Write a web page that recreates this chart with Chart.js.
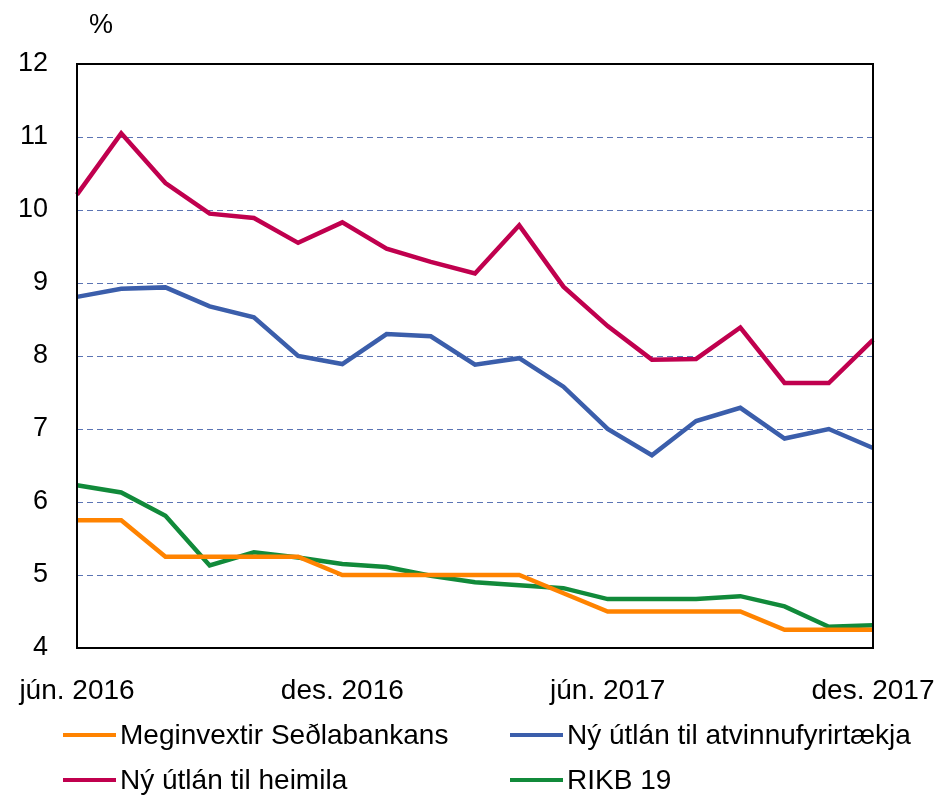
<!DOCTYPE html>
<html>
<head>
<meta charset="utf-8">
<script src="https://cdn.jsdelivr.net/npm/chart.js@4/dist/chart.umd.min.js"></script>
<style>
  html, body { margin: 0; padding: 0; background: #fff; }
  #wrap { position: relative; width: 937px; height: 799px; }
  #chart { position: absolute; left: 0; top: 0; }
  #legend { position: absolute; left: 0; top: 0; width: 937px; height: 799px; pointer-events: none;
            font-family: "Liberation Sans", Arial, sans-serif; font-size: 28px; color: #000; }
  .item { position: absolute; display: flex; align-items: center; white-space: nowrap; }
  .swatch { width: 53px; height: 4px; margin-right: 4px; }
</style>
</head>
<body>
<div id="wrap">
  <canvas id="chart" width="937" height="799"></canvas>
  <div id="legend"></div>
</div>
<script>
// Categories: monthly, jún. 2016 – des. 2017
const months = ["jún. 2016","júl. 2016","ágú. 2016","sep. 2016","okt. 2016","nóv. 2016","des. 2016",
                "jan. 2017","feb. 2017","mar. 2017","apr. 2017","maí 2017","jún. 2017","júl. 2017",
                "ágú. 2017","sep. 2017","okt. 2017","nóv. 2017","des. 2017"];
const shownTickLabels = ["jún. 2016","des. 2016","jún. 2017","des. 2017"];
const yTickValues = [4,5,6,7,8,9,10,11,12];

const seriesNames = ["Meginvextir Seðlabankans","Ný útlán til atvinnufyrirtækja","Ný útlán til heimila","RIKB 19"];

const meginvextir = [5.75,5.75,5.25,5.25,5.25,5.25,5.0,5.0,5.0,5.0,5.0,4.75,4.5,4.5,4.5,4.5,4.25,4.25,4.25];
const atvinnufyrirtaeki = [8.81,8.92,8.94,8.68,8.53,8.0,7.89,8.30,8.27,7.88,7.97,7.58,7.0,6.64,7.11,7.29,6.87,7.0,6.74];
const heimili = [10.21,11.05,10.37,9.95,9.89,9.55,9.83,9.47,9.29,9.13,9.79,8.95,8.41,7.95,7.96,8.39,7.63,7.63,8.22];
const rikb19 = [6.23,6.13,5.81,5.13,5.31,5.24,5.15,5.11,4.99,4.90,4.86,4.82,4.67,4.67,4.67,4.71,4.57,4.29,4.31];

const colors = ["#FF8300","#3B5EAB","#C0004E","#118A3A"];
const seriesData = [meginvextir, atvinnufyrirtaeki, heimili, rikb19];

const FONT = '"Liberation Sans", Arial, sans-serif';

const frame = {
  id: 'frame',
  afterDatasetsDraw(chart) {
    const {ctx, chartArea: a} = chart;
    ctx.save();
    ctx.strokeStyle = '#000';
    ctx.lineWidth = 2;
    ctx.strokeRect(a.left, a.top, a.right - a.left, a.bottom - a.top);
    ctx.fillStyle = '#000';
    ctx.font = '27px ' + FONT;
    ctx.textAlign = 'center';
    ctx.textBaseline = 'middle';
    ctx.fillText('%', a.left + 24, a.top - 38);
    ctx.restore();
  }
};

const chart = new Chart(document.getElementById('chart'), {
  type: 'line',
  data: {
    labels: months,
    datasets: seriesNames.map((n, i) => ({
      label: n,
      data: seriesData[i],
      borderColor: colors[i],
      backgroundColor: colors[i],
      borderWidth: 4.5,
      pointRadius: 0,
      tension: 0,
      fill: false
    }))
  },
  options: {
    responsive: false,
    animation: false,
    events: [],
    layout: { padding: { left: 0, right: 64, top: 64, bottom: 91 } },
    plugins: { legend: { display: false }, tooltip: { enabled: false } },
    scales: {
      x: {
        type: 'category',
        offset: false,
        grid: { display: false, drawTicks: false },
        border: { display: false },
        afterFit(s) { s.height = 60; s.paddingLeft = 0; s.paddingRight = 0; },
        ticks: {
          autoSkip: false,
          maxRotation: 0,
          padding: 26,
          color: '#000',
          font: { family: FONT, size: 28 },
          callback(v, i) { const l = months[i]; return shownTickLabels.includes(l) ? l : ''; }
        }
      },
      y: {
        min: 4, max: 12,
        afterFit(s) { s.width = 77; },
        afterBuildTicks(s) { s.ticks = yTickValues.map(v => ({ value: v })); },
        grid: {
          drawTicks: false,
          color: ctx => (ctx.tick && (ctx.tick.value === 4 || ctx.tick.value === 12)) ? 'rgba(0,0,0,0)' : '#5B74B4',
          lineWidth: 1
        },
        border: { display: false, dash: [6, 4] },
        ticks: {
          padding: 29,
          color: '#000',
          font: { family: FONT, size: 27 }
        }
      }
    }
  },
  plugins: [frame]
});

// Legend from datasets (2 columns x 2 rows)
const legend = document.getElementById('legend');
const pos = [[63, 735], [510, 735], [63, 780], [510, 780]];
chart.data.datasets.forEach((ds, i) => {
  const it = document.createElement('div');
  it.className = 'item';
  it.style.left = pos[i][0] + 'px';
  it.style.top = (pos[i][1] - 17) + 'px';
  it.style.height = '34px';
  const sw = document.createElement('span');
  sw.className = 'swatch';
  sw.style.background = ds.borderColor;
  const tx = document.createElement('span');
  tx.textContent = ds.label;
  it.appendChild(sw); it.appendChild(tx);
  legend.appendChild(it);
});
</script>
</body>
</html>
